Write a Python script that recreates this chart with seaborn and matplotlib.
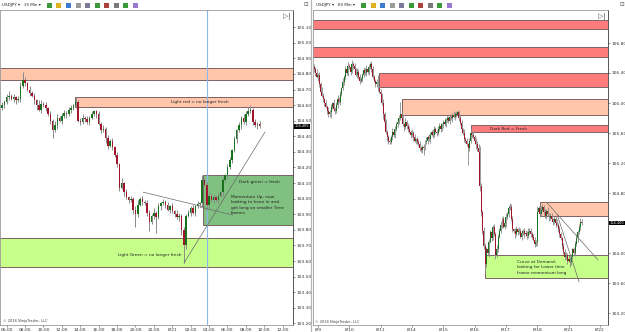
import numpy as np
import pandas as pd
import matplotlib
matplotlib.use("Agg")
import matplotlib.pyplot as plt
from matplotlib.patches import Rectangle
from matplotlib.transforms import blended_transform_factory
import seaborn as sns

# ---------------- data: left panel (USDJPY 15 min) ----------------
left_close = [
    104.60, 104.62, 104.65, 104.66, 104.64, 104.65, 104.63, 104.64, 104.72, 104.76,
    104.74, 104.70, 104.68, 104.66, 104.63, 104.60, 104.57, 104.61, 104.60, 104.58,
    104.54, 104.50, 104.44, 104.47, 104.52, 104.50, 104.53, 104.55, 104.54, 104.57,
    104.58, 104.60, 104.62, 104.50, 104.49, 104.52, 104.51, 104.49, 104.52, 104.54,
    104.56, 104.54, 104.48, 104.44, 104.45, 104.39, 104.34, 104.37, 104.33, 104.28,
    104.22, 104.07, 104.10, 104.04, 104.01, 103.99, 104.00, 103.93, 103.90, 103.96,
    104.00, 103.98, 103.97, 103.91, 103.85, 103.89, 103.91, 103.88, 103.95, 103.97,
    103.98, 103.96, 103.93, 103.95, 103.92, 103.90, 103.88, 103.89, 103.80, 103.70,
    103.89, 103.91, 103.94, 103.91, 103.95, 103.965, 103.97, 104.12, 104.09, 103.96,
    104.02, 103.99, 104.01, 103.99, 104.02, 104.04, 104.12, 104.15, 104.20, 104.25,
    104.31, 104.38, 104.44, 104.47, 104.52, 104.49, 104.54, 104.56, 104.57, 104.49,
    104.47, 104.48, 104.465,
]
left_first_open = 104.58
# wick lengths beyond the body, in pips
left_up = [2, 1, 2, 3, 1, 2, 1, 2, 3, 5, 2, 1, 2, 1, 2, 1, 3, 2, 1, 2,
           1, 2, 1, 3, 2, 1, 2, 2, 1, 2, 2, 1, 3, 1, 2, 2, 1, 2, 1, 2,
           1, 1, 2, 1, 2, 1, 2, 1, 2, 1, 2, 1, 3, 1, 2, 1, 2, 1, 2, 3,
           1, 2, 1, 2, 2, 1, 3, 1, 2, 1, 2, 1, 2, 1, 2, 1, 3, 2, 1, 2,
           1, 2, 1, 2, 1, 2, 1, 3, 1, 2, 2, 1, 2, 1, 2, 1, 2, 1, 2, 2,
           1, 2, 1, 2, 1, 2, 2, 3, 3, 1, 2, 1, 2]
left_dn = [1, 2, 1, 2, 1, 2, 2, 1, 2, 1, 2, 1, 2, 1, 2, 3, 1, 2, 1, 2,
           1, 2, 5, 1, 2, 1, 2, 1, 2, 1, 2, 1, 2, 1, 2, 1, 2, 1, 2, 1,
           1, 2, 1, 2, 1, 3, 2, 1, 2, 1, 2, 2, 1, 2, 1, 2, 1, 3, 8, 2,
           1, 2, 1, 2, 6, 1, 2, 10, 1, 2, 1, 2, 1, 2, 1, 2, 1, 2, 3, 11,
           2, 1, 2, 1, 2, 1, 1, 2, 1, 3, 2, 1, 2, 1, 2, 1, 2, 1, 2, 1,
           2, 1, 2, 1, 2, 1, 2, 1, 1, 2, 1, 2, 1]
left_xlabels = ["06:00", "08:00", "10:00", "12:00", "14:00", "16:00", "18:00", "20:00",
                "22:00", "8/21", "02:00", "04:00", "06:00", "08:00", "10:00", "12:00"]
left_zone_kind = ["light_red", "light_red", "dark_green", "light_green"]
left_zone_start = [-2, 31.7, 87.4, -2]
left_zone_lo = [104.76, 104.59, 103.83, 103.56]
left_zone_hi = [104.84, 104.65, 104.15, 103.75]
left_trend_x = [[61.3, 88.1], [86.1, 100.4], [79.1, 114.3]]
left_trend_y = [[104.042, 103.946], [103.946, 103.895], [103.587, 104.427]]
left_vline = 89.3

# ---------------- data: right panel (USDJPY 60 min) ----------------
right_close = [
    106.45, 106.40, 106.35, 106.38, 106.25, 106.15, 106.10, 106.05, 106.00, 105.95, 105.90, 105.85,
    105.88, 105.95, 106.00, 105.92, 105.90, 105.98, 106.05, 106.02, 106.12, 106.20, 106.28, 106.35,
    106.45, 106.40, 106.50, 106.48, 106.42, 106.52, 106.50, 106.45, 106.38, 106.42, 106.35, 106.30,
    106.32, 106.38, 106.44, 106.40, 106.46, 106.42, 106.48, 106.52, 106.45, 106.35, 106.30, 106.25,
    106.28, 106.20, 106.15, 106.12, 106.00, 105.85, 105.75, 105.62, 105.55, 105.50, 105.48, 105.55,
    105.62, 105.58, 105.65, 105.72, 105.75, 105.80, 105.85, 105.80, 105.72, 105.68, 105.75, 105.70,
    105.65, 105.62, 105.58, 105.60, 105.55, 105.50, 105.52, 105.48, 105.45, 105.40, 105.38, 105.42,
    105.40, 105.48, 105.50, 105.55, 105.52, 105.58, 105.62, 105.58, 105.65, 105.62, 105.60, 105.65,
    105.70, 105.66, 105.72, 105.75, 105.72, 105.78, 105.80, 105.76, 105.82, 105.80, 105.84, 105.82,
    105.86, 105.84, 105.88, 105.80, 105.74, 105.65, 105.60, 105.52, 105.50, 105.45, 105.40, 105.50,
    105.60, 105.58, 105.55, 105.50, 105.45, 105.40, 105.35, 104.90, 104.55, 104.30, 104.10, 103.85,
    104.05, 104.00, 104.15, 104.28, 104.20, 104.35, 104.25, 103.98, 104.05, 104.22, 104.30, 104.38,
    104.45, 104.35, 104.40, 104.48, 104.52, 104.60, 104.62, 104.45, 104.32, 104.30, 104.25, 104.32,
    104.28, 104.30, 104.22, 104.27, 104.30, 104.25, 104.27, 104.23, 104.28, 104.30, 104.26, 104.22,
    104.18, 104.12, 104.15, 104.55, 104.60, 104.52, 104.58, 104.62, 104.55, 104.50, 104.56, 104.52,
    104.47, 104.50, 104.45, 104.42, 104.46, 104.40, 104.38, 104.32, 104.25, 104.20, 104.10, 104.02,
    103.95, 103.98, 103.90, 103.92, 103.88, 103.95, 104.05, 104.00, 104.12, 104.20, 104.28, 104.35,
    104.42, 104.40,
]
right_first_open = 106.48
right_up = [
    4, 3, 5, 2, 4, 3, 6, 3, 2, 4, 3, 5, 3, 4, 2, 5, 3, 4, 6, 3, 4, 2, 5, 3,
    4, 3, 5, 2, 4, 5, 3, 4, 2, 5, 3, 4, 3, 2, 4, 3, 5, 2, 4, 3, 4, 5, 3, 2,
    4, 10, 3, 4, 2, 5, 3, 4, 2, 3, 4, 2, 5, 3, 4, 3, 2, 4, 17, 3, 4, 2, 5, 3,
    3, 4, 2, 5, 3, 4, 2, 3, 4, 5, 3, 2, 4, 3, 5, 2, 4, 3, 2, 4, 5, 3, 2, 4,
    3, 4, 2, 3, 5, 2, 4, 3, 2, 4, 3, 5, 2, 4, 3, 2, 4, 3, 2, 5, 3, 4, 2, 3,
    5, 3, 4, 2, 3, 4, 6, 8, 4, 3, 5, 4, 3, 6, 4, 3, 5, 2, 4, 3, 6, 4, 3, 5,
    3, 4, 2, 5, 3, 4, 5, 3, 4, 2, 3, 4, 2, 5, 3, 4, 2, 3, 4, 2, 5, 3, 4, 2,
    3, 4, 2, 8, 3, 4, 5, 3, 2, 4, 3, 5, 2, 4, 3, 2, 4, 3, 5, 2, 4, 3, 2, 4,
    3, 4, 2, 5, 3, 4, 2, 3, 4, 5, 3, 4, 5, 3,
]
right_dn = [
    3, 4, 2, 5, 3, 4, 2, 3, 4, 2, 5, 3, 4, 8, 3, 2, 4, 3, 5, 2, 4, 3, 2, 4,
    3, 2, 4, 3, 5, 2, 4, 3, 2, 4, 3, 5, 2, 4, 3, 2, 4, 3, 5, 2, 4, 3, 2, 4,
    3, 4, 2, 5, 3, 6, 4, 3, 5, 4, 3, 2, 4, 3, 5, 2, 4, 3, 2, 4, 3, 5, 2, 4,
    3, 2, 4, 3, 5, 2, 4, 3, 2, 4, 3, 5, 9, 3, 2, 4, 3, 5, 2, 4, 3, 2, 4, 3,
    2, 4, 3, 5, 2, 4, 3, 2, 4, 3, 5, 2, 4, 3, 2, 4, 3, 5, 2, 4, 3, 2, 23, 4,
    3, 4, 2, 5, 6, 4, 5, 7, 6, 5, 4, 13, 4, 3, 5, 2, 4, 3, 2, 6, 3, 4, 2, 3,
    4, 2, 3, 5, 2, 4, 3, 2, 4, 3, 5, 2, 4, 3, 2, 4, 3, 5, 2, 4, 3, 2, 4, 3,
    2, 4, 3, 5, 2, 4, 3, 2, 4, 3, 5, 2, 4, 3, 2, 4, 3, 5, 2, 4, 3, 2, 4, 3,
    4, 3, 5, 2, 6, 4, 3, 2, 4, 3, 5, 2, 4, 3,
]
right_xlabels = ["8/9", "8/10", "8/11", "8/14", "8/15", "8/16", "8/17", "8/18", "8/21", "8/22"]
right_zone_kind = ["dark_red", "dark_red", "dark_red", "light_red", "dark_red", "light_red", "light_green"]
right_zone_start = [-2, -2, 49.6, 67.2, 120.6, 173.3, 131.3]
right_zone_lo = [106.99, 106.61, 106.21, 105.84, 105.61, 104.50, 103.67]
right_zone_hi = [107.11, 106.75, 106.40, 106.05, 105.71, 104.68, 103.97]
right_trend_x = [[178.6, 217.6], [186.3, 203.1]]
right_trend_y = [[104.667, 103.907], [104.507, 103.613]]

zone_colors = {"dark_red": "#ff7c7c", "light_red": "#ffc6ab",
               "dark_green": "#80c080", "light_green": "#c6ff8a"}

sns.set_style("white")
plt.rcParams["font.family"] = ["DejaVu Sans"]

fig = plt.figure(figsize=(6.25, 3.32), dpi=100)
axl = fig.add_axes([0.0, 7 / 332, 293 / 625, 315 / 332])
axr = fig.add_axes([313 / 625, 7 / 332, 295 / 625, 315 / 332])


def draw_candles(ax, close, first_open, up, dn, width, wick_lw):
    df = pd.DataFrame({"close": close})
    df["open"] = [first_open] + close[:-1]
    top = df[["open", "close"]].max(axis=1)
    bot = df[["open", "close"]].min(axis=1)
    df["high"] = top + np.array(up) / 100
    df["low"] = bot - np.array(dn) / 100
    x = np.arange(len(df))
    ax.vlines(x, df["low"], df["high"], color="#8a8a8a", lw=wick_lw, zorder=3)
    colors = np.where(df["close"] >= df["open"], "#16721c", "#a3152b")
    ax.bar(x, (top - bot).clip(lower=0.008), bottom=bot, width=width,
           color=colors, linewidth=0, zorder=4)
    return df


def draw_zones(ax, kinds, starts, los, his, xmax):
    for k, s, lo, hi in zip(kinds, starts, los, his):
        ax.add_patch(Rectangle((s, lo), xmax - s, hi - lo, facecolor=zone_colors[k],
                               edgecolor="#7d6262", lw=0.7, zorder=1))


def style_axis(ax, xlim, ylim, yticks, xticks, xlabels, last_price, gap):
    ax.set_xlim(*xlim)
    ax.set_ylim(*ylim)
    ax.yaxis.tick_right()
    ax.set_yticks(yticks)
    # the label hidden behind the last-price box is left blank
    ax.set_yticklabels(["" if abs(v - last_price) < gap else f"{v:.2f}" for v in yticks])
    ax.set_xticks(xticks)
    ax.set_xticklabels(xlabels)
    ax.tick_params(labelsize=3.2, length=1.5, width=0.4, pad=0.8, colors="#333333",
                   bottom=True, right=True, left=False)
    for side in ["top", "left", "bottom"]:
        ax.spines[side].set_color("#9a9a9a")
        ax.spines[side].set_linewidth(0.6)
    ax.spines["right"].set_color("#555555")
    ax.spines["right"].set_linewidth(0.7)
    ax.set_xlabel("")
    ax.set_ylabel("")


def price_box(ax, value):
    tr = blended_transform_factory(ax.transAxes, ax.transData)
    ax.text(1.006, value, f"{value:.3f}", transform=tr, fontsize=2.5, color="white",
            va="center", ha="left", clip_on=False, zorder=10,
            bbox=dict(boxstyle="square,pad=0.12", fc="black", ec="none"))


# ---- left panel ----
lxmax = 126.5
draw_zones(axl, left_zone_kind, left_zone_start, left_zone_lo, left_zone_hi, lxmax)
draw_candles(axl, left_close, left_first_open, left_up, left_dn, 0.65, 0.7)
axl.axvline(left_vline, color="#8db6ea", lw=0.8, zorder=2)
for tx, ty in zip(left_trend_x, left_trend_y):
    sns.lineplot(x=tx, y=ty, ax=axl, color="#6a6a6a", lw=0.5, legend=False, zorder=5)
style_axis(axl, (-0.9, lxmax), (103.19, 105.21),
           np.round(np.arange(103.2, 105.11, 0.1), 2),
           [2 + 8 * k for k in range(len(left_xlabels))], left_xlabels, left_close[-1], 0.02)
price_box(axl, left_close[-1])

txt = dict(fontsize=3.1, color="#222222", zorder=6)
axl.text(86, 104.62, "Light red = no longer fresh", ha="center", va="center", **txt)
axl.text(112, 104.107, "Dark green = fresh", ha="center", va="center", **txt)
axl.text(99.6, 103.96, "Momentum Up, now\nlooking to hone in and\nget long on smaller Time\nframes",
         ha="left", va="center", linespacing=1.45, **txt)
axl.text(64.3, 103.64, "Light Green = no longer fresh", ha="center", va="center", **txt)
axl.text(0.5, 103.205, "\u00a9 2016 NinjaTrader, LLC", fontsize=2.6, color="#444444",
         ha="left", va="bottom", zorder=6)

# ---- right panel ----
rxmax = 225.2
draw_zones(axr, right_zone_kind, right_zone_start, right_zone_lo, right_zone_hi, rxmax)
draw_candles(axr, right_close, right_first_open, right_up, right_dn, 0.75, 0.6)
for tx, ty in zip(right_trend_x, right_trend_y):
    sns.lineplot(x=tx, y=ty, ax=axr, color="#6a6a6a", lw=0.5, legend=False, zorder=5)
style_axis(axr, (-0.8, rxmax), (103.04, 107.24),
           np.round(np.arange(103.2, 106.81, 0.4), 2),
           [3 + 24 * k for k in range(len(right_xlabels))], right_xlabels, right_close[-1], 0.08)
price_box(axr, right_close[-1])

axr.text(148.9, 105.66, "Dark Red = Fresh", ha="center", va="center", **txt)
axr.text(155.7, 103.81, "Curve at Demand,\nlooking for Lower time\nframe momentum long",
         ha="left", va="center", linespacing=1.45, **txt)
axr.text(0.5, 103.06, "\u00a9 2016 NinjaTrader, LLC", fontsize=2.6, color="#444444",
         ha="left", va="bottom", zorder=6)

# ---- toolbars and frame decorations ----
for x0, label in [(2, "USDJPY \u25be   15 Min \u25be"), (316, "USDJPY \u25be   60 Min \u25be")]:
    fig.text(x0 / 625, 1 - 5 / 332, label, fontsize=3.0, va="center", color="#222222")
    for j, c in enumerate(["#3a9a3a", "#e0b020", "#3a7ad0", "#9a9a9a", "#7a7a9a",
                           "#3a9a3a", "#b04040", "#7a7a7a", "#3a9a3a", "#9a7ad0"]):
        fig.add_artist(Rectangle(((x0 + 45 + j * 9.5) / 625, 1 - 8 / 332), 5 / 625, 5 / 332,
                                 transform=fig.transFigure, facecolor=c, edgecolor="none"))
for x0 in [283, 598]:
    fig.text(x0 / 625, 1 - 16 / 332, "\u25b7|", fontsize=5, color="#555555", va="center")
for x0 in [303, 619]:
    fig.text(x0 / 625, 1 - 5 / 332, "\u22a1", fontsize=4, color="#555555", va="center")
fig.add_artist(plt.Line2D([311 / 625, 311 / 625], [0, 1], color="#b5b5b5", lw=0.9,
                          transform=fig.transFigure))

fig.savefig("out.png", dpi=100)
